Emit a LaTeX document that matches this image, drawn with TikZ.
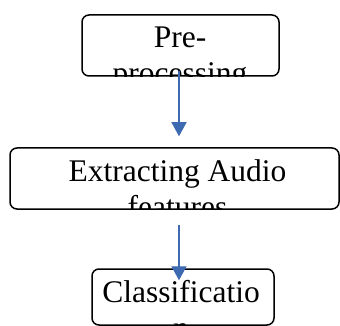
\documentclass[tikz,border=0pt]{standalone}
\usepackage{fontspec}
\setmainfont{Liberation Serif}
\usepackage{tikz}
\usepackage{xcolor}
\usetikzlibrary{arrows.meta}

\definecolor{flowblue}{RGB}{62,106,178}

\tikzset{
  stage/.style={draw=black, line width=1.5pt, rounded corners=7pt, inner sep=0pt},
  stagetext/.style={align=center, inner sep=0pt, font=\fontsize{31.5}{36}\selectfont},
  flow/.style={flowblue, line width=1.3pt, -{Triangle[width=15pt,length=14pt]}}
}

\begin{document}
\begin{tikzpicture}[x=1pt, y=-1pt]
\useasboundingbox (0,0) rectangle (340,326);
% boxes
\node[stage, minimum width=197pt, minimum height=61pt] (pre) at (180.5,45.5) {};
\node[stage, minimum width=329pt, minimum height=61pt] (feat) at (174.5,178.5) {};
\node[stage, minimum width=182pt, minimum height=56pt] (cls) at (183,297) {};
% texts, cut off by the boxes (base = last line)
\begin{scope}
\clip[rounded corners=7pt] (pre.south west) rectangle (pre.north east);
\node[stagetext, anchor=base] (pretext) at (180,84) {Pre-\\processing};
\end{scope}
\begin{scope}
\clip[rounded corners=7pt] (feat.south west) rectangle (feat.north east);
\node[stagetext, anchor=base] (feattext) at (177.5,217.5) {Extracting Audio\\features};
\end{scope}
\begin{scope}
\clip[rounded corners=7pt] (cls.south west) rectangle (cls.north east);
\node[stagetext, anchor=base] (clstext) at (181,338.5) {Classificatio\\n};
\end{scope}
% arrows
\draw[flow] ([xshift=-1.5pt,yshift=6pt]pre.south) -- ([xshift=4.5pt,yshift=11pt]feat.north);
\draw[flow] ([xshift=4.5pt,yshift=-15pt]feat.south) -- ([xshift=-4pt,yshift=-12pt]cls.north);
\end{tikzpicture}
\end{document}
